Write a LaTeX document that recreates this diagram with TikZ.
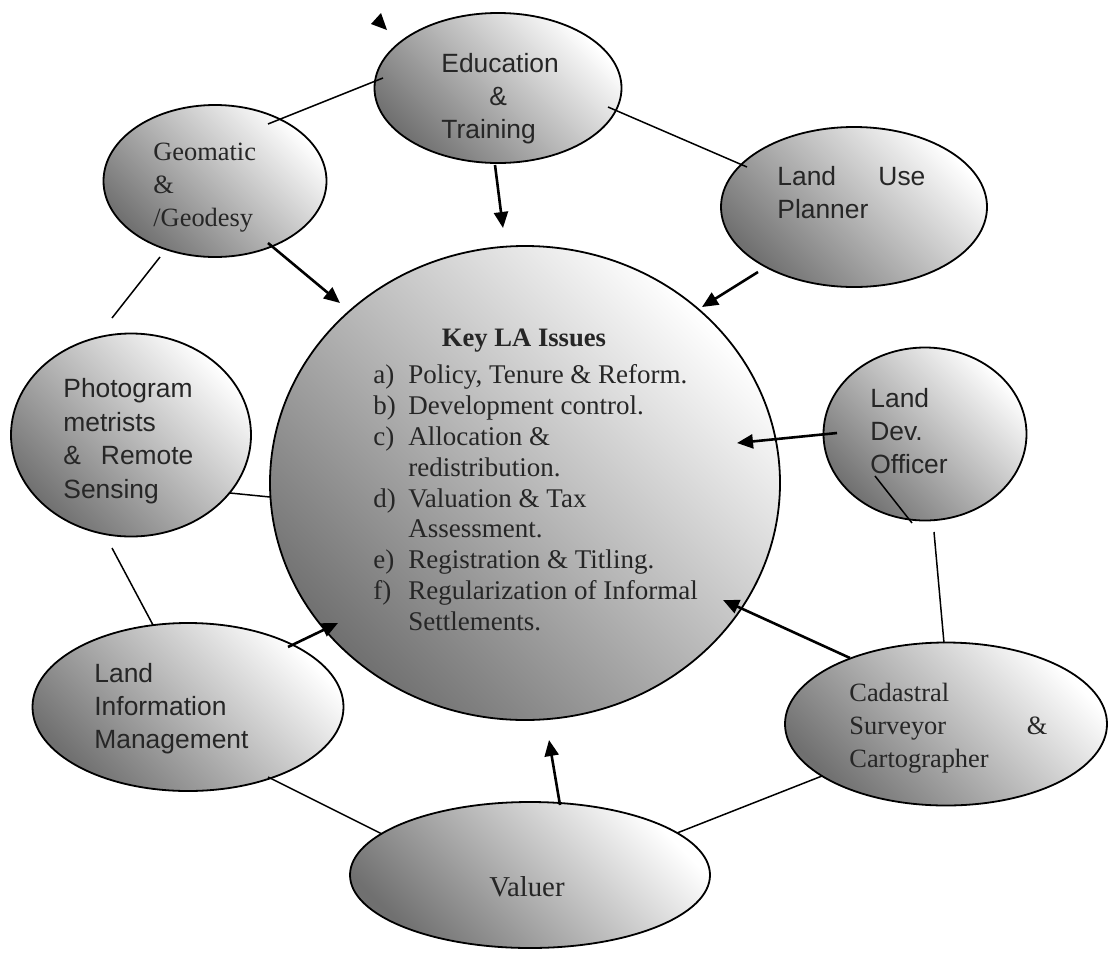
\documentclass[tikz,border=0pt]{standalone}
\usepackage{fontspec}
\setmainfont{Liberation Serif}
\newfontfamily\arialf{Liberation Sans}
\usetikzlibrary{shapes.geometric,arrows.meta}
\begin{document}
\begin{tikzpicture}[x=0.5pt,y=-0.5pt,
  blob/.style={ellipse,draw=black,line width=0.9pt,inner sep=0pt,
    top color=white,bottom color=black!56,shading angle=-45},
  rtxt/.style={inner sep=0pt,align=left,anchor=north west,text=black!85,
    font=\fontsize{13.2}{16.5}\selectfont},
  stxt/.style={inner sep=0pt,align=left,anchor=north west,text=black!85,
    font=\arialf\fontsize{13.2}{16.5}\selectfont},
  arr/.style={line width=1.3pt,-{Triangle[length=8pt,width=7pt]}},
  ln/.style={line width=0.75pt}
]
\useasboundingbox (0,0) rectangle (1109,954);
\fill[white] (0,0) rectangle (1109,954);

% ellipses
\node[blob,minimum width=255pt,minimum height=237pt] (key) at (525,483) {};
\node[blob,minimum width=123.5pt,minimum height=75pt] (edu) at (498,88) {};
\node[blob,minimum width=111.5pt,minimum height=76pt] (geo) at (215,181) {};
\node[blob,minimum width=133pt,minimum height=80pt] (lup) at (854,207) {};
\node[blob,minimum width=120pt,minimum height=101.5pt] (photo) at (131,435) {};
\node[blob,minimum width=101.5pt,minimum height=86.5pt] (ldo) at (925,434) {};
\node[blob,minimum width=161pt,minimum height=81.5pt] (cad) at (946,724) {};
\node[blob,minimum width=180pt,minimum height=73pt] (val) at (530,875) {};
\node[blob,minimum width=155.5pt,minimum height=84pt] (lim) at (188,707) {};

% connector end points
\coordinate (eduOut) at (495,165);  \coordinate (keyN)  at (503,228);
\coordinate (geoOut) at (268,243);  \coordinate (keyNW) at (340,303);
\coordinate (lupOut) at (758,272);  \coordinate (keyNE) at (702,307);
\coordinate (ldoOut) at (837,433);  \coordinate (keyE)  at (737,443);
\coordinate (cadOut) at (850,658);  \coordinate (keySE) at (723,600);
\coordinate (valOut) at (560,805);  \coordinate (keyS)  at (549,740);
\coordinate (limOut) at (288,647);  \coordinate (keySW) at (338,623);

\coordinate (geoE) at (268,124);   \coordinate (eduW) at (383,78);
\coordinate (eduE) at (608,107);   \coordinate (lupW) at (747,167);
\coordinate (geoS) at (160,257);   \coordinate (geoFree) at (112,318);
\coordinate (photoE) at (230,493); \coordinate (keyW) at (270,497);
\coordinate (photoS) at (112,548); \coordinate (limN) at (153,625);
\coordinate (limE) at (268,777);   \coordinate (valW) at (382,834);
\coordinate (valE) at (677,833);   \coordinate (cadW) at (822,776);
\coordinate (ldoIn) at (875,476);  \coordinate (ldoS) at (912,523);
\coordinate (ldoS2) at (934,532);  \coordinate (cadN) at (944,643);

% arrows into the centre
\draw[arr] (eduOut) -- (keyN);
\draw[arr] (geoOut) -- (keyNW);
\draw[arr] (lupOut) -- (keyNE);
\draw[arr] (ldoOut) -- (keyE);
\draw[arr] (cadOut) -- (keySE);
\draw[arr] (valOut) -- (keyS);
\draw[arr] (limOut) -- (keySW);

% plain connectors
\draw[ln] (geoE) -- (eduW);
\draw[ln] (eduE) -- (lupW);
\draw[ln] (geoS) -- (geoFree);
\draw[ln] (photoE) -- (keyW);
\draw[ln] (photoS) -- (limN);
\draw[ln] (limE) -- (valW);
\draw[ln] (valE) -- (cadW);
\draw[ln] (ldoIn) -- (ldoS);
\draw[ln] (ldoS2) -- (cadN);

% stray arrow head
\fill (381,13) -- (371,24) -- (387,30) -- cycle;

% texts
\node[stxt] (eduT) at (441,53) {Education\\\hspace*{24pt}\&\\Training};
\node[rtxt] (geoT) at (153,143) {Geomatic\\\&\\/Geodesy};
\node[stxt] (lupT) at (777,166) {\makebox[74pt][s]{Land Use}\\Planner};
\node[stxt,font=\arialf\fontsize{13.2}{16.8}\selectfont] (photoT) at (63,378)
  {Photogram\\metrists\\\makebox[65pt][s]{\& Remote}\\Sensing};
\node[stxt] (ldoT) at (870,388) {Land\\Dev.\\Officer};
\node[rtxt] (cadT) at (849,683) {Cadastral\\\makebox[99pt][s]{Surveyor \&}\\Cartographer};
\node[rtxt,anchor=center,font=\fontsize{14.4}{17}\selectfont] (valT) at (527,887) {Valuer};
\node[stxt] (limT) at (94,663) {Land\\Information\\Management};
\node[rtxt,anchor=center,font=\fontsize{13.3}{15.5}\selectfont\bfseries] (keyT) at (524,341) {Key LA Issues};
\node[rtxt,font=\fontsize{13.5}{15.45}\selectfont] (keyL) at (373,364) {%
\makebox[17.5pt][l]{a)}Policy, Tenure \& Reform.\\
\makebox[17.5pt][l]{b)}Development control.\\
\makebox[17.5pt][l]{c)}Allocation \&\\
\hspace*{17.5pt}redistribution.\\
\makebox[17.5pt][l]{d)}Valuation \& Tax\\
\hspace*{17.5pt}Assessment.\\
\makebox[17.5pt][l]{e)}Registration \& Titling.\\
\makebox[17.5pt][l]{f)}Regularization of Informal\\
\hspace*{17.5pt}Settlements.};
\end{tikzpicture}
\end{document}
